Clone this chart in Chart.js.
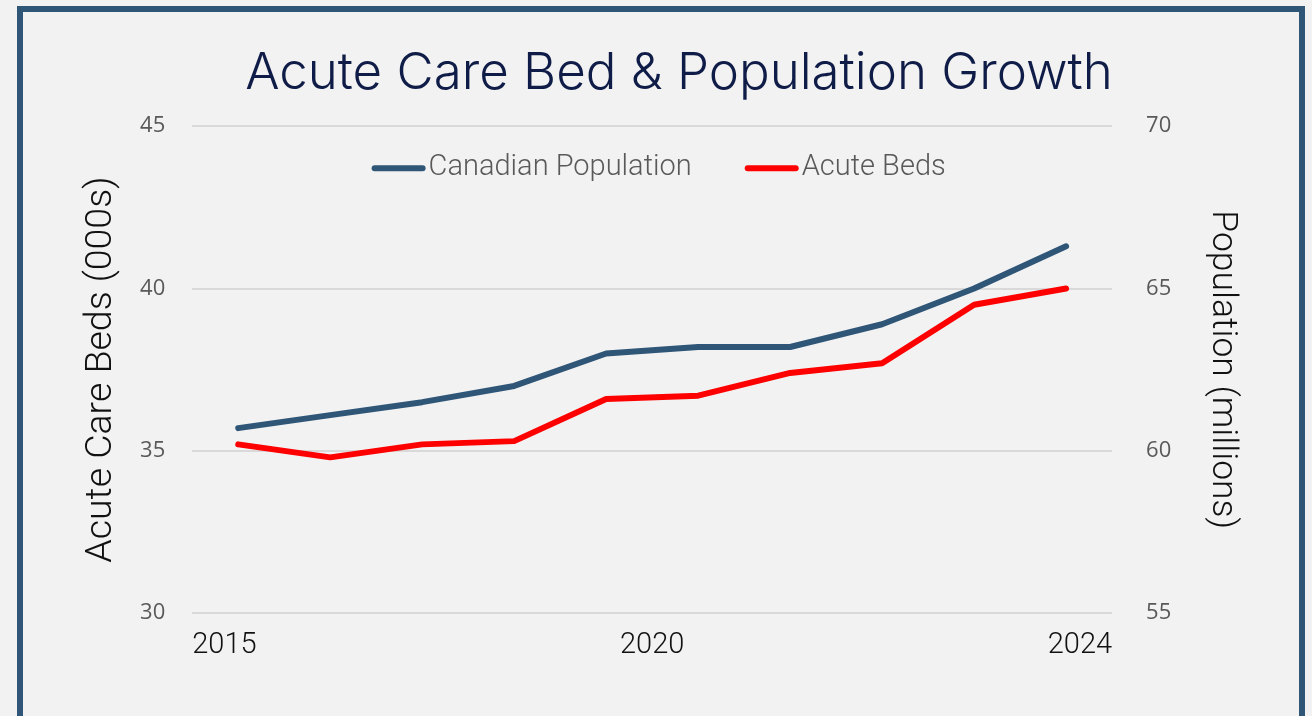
<!DOCTYPE html>
<html lang="en">
<head>
    <meta charset="UTF-8">
    <title>Acute Care Bed &amp; Population Growth</title>
    <style>
        body {
            margin: 0;
            background-color: #f2f2f2;
            overflow: hidden;
        }

        .frame {
            position: absolute;
            left: 17px;
            top: 6px;
            width: 1276px;
            height: 760px;
            border: 6px solid #2f5577;
            background-color: #f2f2f2;
        }

        .chart-box {
            position: absolute;
            left: 58px;
            top: 12px;
            width: 1242px;
            height: 704px;
        }
    </style>
</head>
<body>

<div class="frame"></div>
<div class="chart-box">
    <canvas id="bedsChart"></canvas>
</div>

<script src="https://cdn.jsdelivr.net/npm/chart.js"></script>
<script>
    // valores
    const years = ['2015', '2016', '2017', '2018', '2019', '2020', '2021', '2022', '2023', '2024'];
    const yearTicks = ['2015', '2020', '2024'];
    const population = [35.7, 36.1, 36.5, 37.0, 38.0, 38.2, 38.2, 38.9, 40.0, 41.3];
    const acuteBeds = [35.2, 34.8, 35.2, 35.3, 36.6, 36.7, 37.4, 37.7, 39.5, 40.0];
    const bedsRange = [30, 45];
    const popRange = [55, 70];

    // legenda desenhada dentro da area do grafico
    const insideLegend = {
        id: 'insideLegend',
        afterDatasetsDraw(chart) {
            const ctx = chart.ctx;
            const area = chart.chartArea;
            const lineLen = 48;
            const gap = 6;
            const itemGap = 50;
            ctx.save();
            ctx.font = '300 29px Roboto';
            const items = chart.data.datasets.map(ds => ({
                ds: ds,
                w: 3 + lineLen + 3 + gap + ctx.measureText(ds.label).width
            }));
            const total = items.reduce((s, it) => s + it.w, 0) + itemGap * (items.length - 1);
            let x = (area.left + area.right) / 2 + 8 - total / 2;
            const y = area.top + 42;
            items.forEach(it => {
                ctx.strokeStyle = it.ds.borderColor;
                ctx.lineWidth = 6;
                ctx.lineCap = 'round';
                ctx.beginPath();
                ctx.moveTo(x + 3, y);
                ctx.lineTo(x + 3 + lineLen, y);
                ctx.stroke();
                ctx.fillStyle = '#595959';
                ctx.textBaseline = 'middle';
                ctx.textAlign = 'left';
                ctx.fillText(it.ds.label, x + 6 + lineLen + gap - 3, y);
                x += it.w + itemGap;
            });
            ctx.restore();
        }
    };

    const config = {
        type: 'line',
        data: {
            labels: years,
            datasets: [{
                label: 'Canadian Population',
                data: population,
                borderColor: '#2f5577',
                borderWidth: 6,
                borderCapStyle: 'round',
                borderJoinStyle: 'round',
                pointRadius: 0,
                tension: 0
            }, {
                label: 'Acute Beds',
                data: acuteBeds,
                borderColor: '#ff0000',
                borderWidth: 6,
                borderCapStyle: 'round',
                borderJoinStyle: 'round',
                pointRadius: 0,
                tension: 0
            }]
        },
        options: {
            responsive: true,
            maintainAspectRatio: false,
            animation: false,
            layout: {
                padding: { left: 18, right: 18, top: 0, bottom: 38 }
            },
            plugins: {
                legend: { display: false },
                tooltip: { enabled: false },
                title: {
                    display: true,
                    text: 'Acute Care Bed & Population Growth',
                    color: '#0f1c47',
                    font: { family: 'Inter', size: 51, weight: '300' },
                    padding: { top: 31, bottom: 22 }
                }
            },
            scales: {
                x: {
                    type: 'category',
                    display: false,
                    offset: true
                },
                xTicks: {
                    type: 'category',
                    labels: yearTicks,
                    position: 'bottom',
                    offset: false,
                    grid: { display: false, drawTicks: false },
                    border: { display: false },
                    ticks: {
                        align: 'inner',
                        autoSkip: false,
                        maxRotation: 0,
                        padding: 15,
                        color: '#111111',
                        font: { family: 'Roboto', size: 29, weight: '300' }
                    }
                },
                y: {
                    position: 'left',
                    min: bedsRange[0],
                    max: bedsRange[1],
                    grid: { color: '#d9d9d9', lineWidth: 2, drawTicks: false },
                    border: { display: false },
                    ticks: {
                        stepSize: 5,
                        padding: 27,
                        color: '#595959',
                        font: { family: 'Open Sans', size: 22 }
                    },
                    title: {
                        display: true,
                        text: 'Acute Care Beds (000s)',
                        color: '#111111',
                        font: { family: 'Roboto', size: 37.5, weight: '300', lineHeight: 0.5 },
                        padding: { top: 16.6, bottom: 1.7 }
                    }
                },
                y1: {
                    position: 'right',
                    min: popRange[0],
                    max: popRange[1],
                    grid: { drawOnChartArea: false, drawTicks: false },
                    border: { display: false },
                    ticks: {
                        stepSize: 5,
                        padding: 34,
                        color: '#595959',
                        font: { family: 'Open Sans', size: 22 }
                    },
                    title: {
                        display: true,
                        text: 'Population (millions)',
                        color: '#111111',
                        font: { family: 'Roboto', size: 35.5, weight: '300', lineHeight: 0.5 },
                        padding: { top: 51, bottom: 8 }
                    }
                }
            }
        },
        plugins: [insideLegend]
    };

    const bedsChart = new Chart(document.getElementById('bedsChart'), config);
</script>

</body>
</html>
